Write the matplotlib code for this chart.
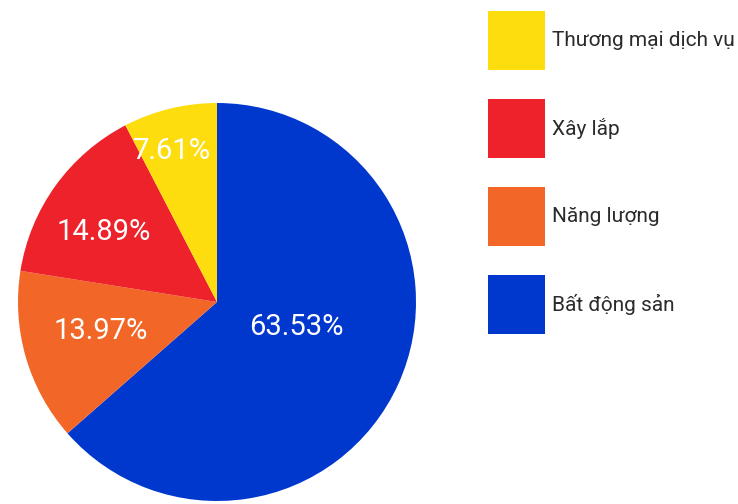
import numpy as np
import matplotlib.pyplot as plt
from matplotlib.patches import Rectangle

# sector shares (%), drawn clockwise from 12 o'clock
sectors = ['Bất động sản', 'Năng lượng', 'Xây lắp', 'Thương mại dịch vụ']
shares = [63.53, 13.97, 14.89, 7.61]
colors = ['#0038CE', '#F26727', '#EE222A', '#FDDD0D']

# legend order (top to bottom)
legend_order = ['Thương mại dịch vụ', 'Xây lắp', 'Năng lượng', 'Bất động sản']

# percentage label placement: fraction of radius, and nudge off the mid-angle (deg)
label_dist = [0.42, 0.60, 0.67, 0.79]
label_nudge = [7, -2, 4, 3]

plt.rcParams['font.family'] = ['Roboto', 'DejaVu Sans']

W, H = 738, 504
fig = plt.figure(figsize=(W / 100, H / 100), dpi=100)

cx, cy, r = 217, 302, 199
ax = fig.add_axes([(cx - r) / W, (H - cy - r) / H, 2 * r / W, 2 * r / H])
wedges, _ = ax.pie(shares, colors=colors, startangle=90, counterclock=False,
                   radius=1, wedgeprops=dict(linewidth=0))
ax.set_xlim(-1, 1)
ax.set_ylim(-1, 1)
ax.set_aspect('equal')
ax.axis('off')

for w, val, d, nd in zip(wedges, shares, label_dist, label_nudge):
    ang = np.deg2rad((w.theta1 + w.theta2) / 2 + nd)
    ax.text(d * np.cos(ang), d * np.sin(ang), f'{val:.2f}%',
            ha='center', va='center', color='white', fontsize=21)

# legend swatches
col_of = dict(zip(sectors, colors))
for i, name in enumerate(legend_order):
    top = 11 + i * 88
    fig.patches.append(Rectangle((488 / W, (H - top - 59) / H), 57 / W, 59 / H,
                                 transform=fig.transFigure, color=col_of[name],
                                 linewidth=0))
    fig.text(552 / W, (H - top - 29.5) / H, name, ha='left', va='center',
             fontsize=15, color='#2b2b2b')

fig.savefig('out.png', dpi=100)
